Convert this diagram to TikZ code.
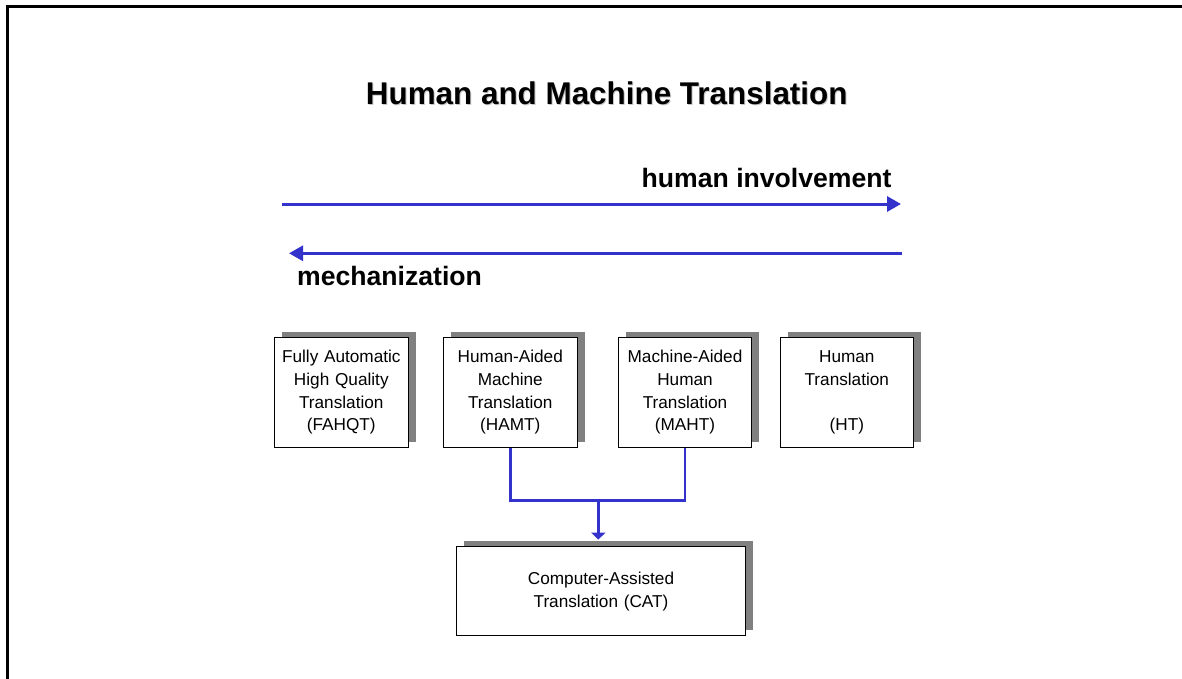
\documentclass[tikz,border=0pt]{standalone}
\usepackage{fontspec}
\setmainfont{Liberation Sans}
\usetikzlibrary{arrows.meta,shadows,calc}
\definecolor{arrblue}{HTML}{3333CC}
\definecolor{shgray}{HTML}{808080}
\tikzset{
  x=1pt, y=-1pt,
  frame/.style={line width=3pt, black},
  bigarrow/.style={line width=3pt, arrblue, -{Triangle[length=14pt,width=15pt]}},
  conn/.style={line width=2.6pt, arrblue},
  conntip/.style={conn, -{Triangle[length=7pt,width=14pt]}},
  boxed/.style={draw=black, line width=1pt, fill=white, inner xsep=1.75pt, inner ysep=0pt,
    text width=130pt, align=center, minimum height=110pt,
    font=\fontsize{17.2}{22.6}\selectfont,
    drop shadow={shadow xshift=7.5pt, shadow yshift=5.5pt, fill=shgray, opacity=1}},
  catbox/.style={boxed, text width=285.5pt, minimum height=89pt},
  titletext/.style={font=\fontsize{31.4}{36}\selectfont\bfseries, inner sep=0pt},
  labeltext/.style={font=\fontsize{26.6}{30}\selectfont\bfseries, inner sep=0pt}
}
\begin{document}
\begin{tikzpicture}
\useasboundingbox (0,0) rectangle (1182,679);
\clip (0,0) rectangle (1182,679);
% frame
\draw[frame] (7,690) -- (7,7) -- (1195,7);
% title with faint shadow
\node[titletext, anchor=base, text=black!22] at (607.7,106) {Human and Machine Translation};
\node[titletext, anchor=base] (title) at (606.7,105) {Human and Machine Translation};
% axis labels
\node[labeltext, anchor=base east] (hi) at (891.7,187) {human involvement};
\node[labeltext, anchor=base west] (mech) at (297,285) {mechanization};
% axis arrows
\coordinate (h1) at (282,204);
\coordinate (h2) at (901,204);
\coordinate (m1) at (902,253.3);
\coordinate (m2) at (289,253.3);
\draw[bigarrow] (h1) -- (h2);
\draw[bigarrow] (m1) -- (m2);
% boxes
\node[boxed] (fahqt) at (341.3,392.3) {Fully Automatic\\High Quality\\Translation\\(FAHQT)};
\node[boxed] (hamt) at (510.3,392.3) {Human-Aided\\Machine\\Translation\\(HAMT)};
\node[boxed] (maht) at (685,392.3) {Machine-Aided\\Human\\Translation\\(MAHT)};
\node[boxed] (ht) at (846.8,392.3) {Human\\Translation\\\mbox{}\\(HT)};
\node[catbox] (cat) at (601,591.3) {Computer-Assisted\\Translation (CAT)};
% connectors
\coordinate (j) at (598.3,500.7);
\draw[conn] (hamt.south) |- (j) -| (maht.south);
\draw[conntip] (j) -- ($(j |- cat.north)+(0,-6.7)$);
\end{tikzpicture}
\end{document}
